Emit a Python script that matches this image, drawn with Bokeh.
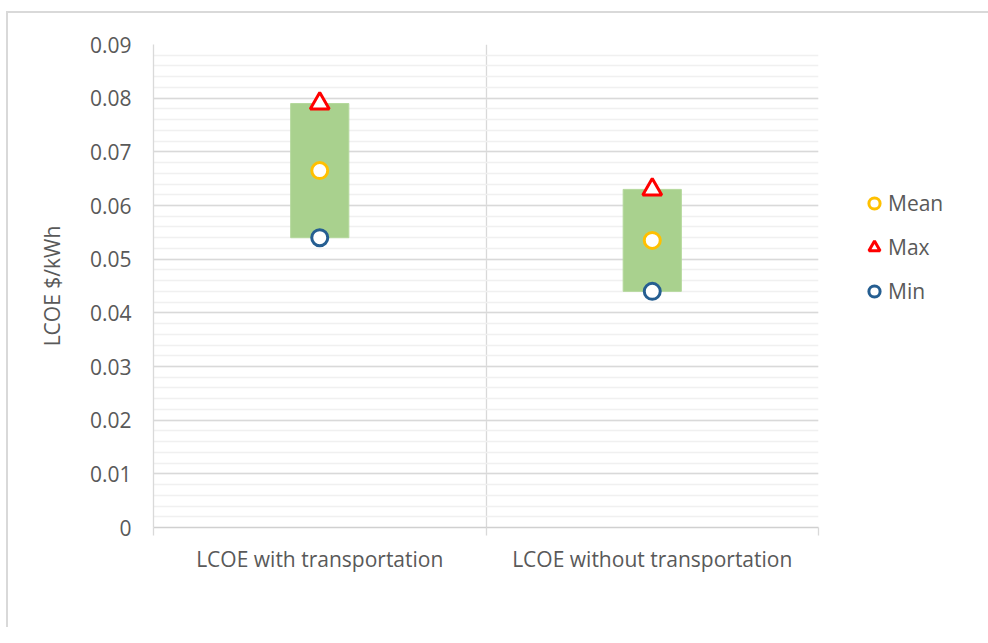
from bokeh.plotting import figure
from bokeh.models import (ColumnDataSource, Range1d, FixedTicker, NumeralTickFormatter,
                          Legend, LegendItem)
from bokeh.embed import file_html
from bokeh.resources import INLINE

# ---- data ----
categories = ["LCOE with transportation", "LCOE without transportation"]
x_pos = [1, 3]
mean_vals = [0.0665, 0.0535]
max_vals = [0.079, 0.063]
min_vals = [0.054, 0.044]
y_ticks = [0, 0.01, 0.02, 0.03, 0.04, 0.05, 0.06, 0.07, 0.08, 0.09]

TXT = "#595959"
FONT = "Open Sans"
FS = "21px"

src = ColumnDataSource(dict(x=x_pos, mean=mean_vals, mx=max_vals, mn=min_vals))

p = figure(width=986, height=641, output_backend="svg", toolbar_location=None,
           x_range=Range1d(0, 4), y_range=Range1d(0, 0.09),
           min_border_left=153, min_border_top=44, min_border_right=150, min_border_bottom=100,
           frame_width=665, frame_height=483)
p.outline_line_color = None
p.background_fill_color = "white"
p.border_fill_alpha = 0
p.styles = {
    "background": "linear-gradient(#d9d9d9,#d9d9d9) 6px 11px / 2px 100% no-repeat, "
                  "linear-gradient(#d9d9d9,#d9d9d9) 6px 11px / 100% 2px no-repeat, white"
}

# grids
minor = [round(i * 0.002, 3) for i in range(46)]
p.yaxis.ticker = FixedTicker(ticks=y_ticks, minor_ticks=minor)
p.ygrid.grid_line_color = "#d9d9d9"
p.ygrid.grid_line_width = 1.3
p.ygrid.minor_grid_line_color = "#f0f0f0"
p.ygrid.minor_grid_line_width = 1.3
p.xgrid.ticker = FixedTicker(ticks=[2, 4])
p.xgrid.grid_line_color = "#d9d9d9"
p.xgrid.grid_line_width = 1.3

# y axis
ya = p.yaxis[0]
ya.formatter = NumeralTickFormatter(format="0.[00]")
ya.axis_line_color = "#d9d9d9"
ya.axis_line_width = 1.3
ya.major_tick_out = 0
ya.major_tick_in = 0
ya.minor_tick_out = 0
ya.minor_tick_in = 0
ya.major_label_standoff = 22
ya.major_label_text_font = FONT
ya.major_label_text_font_size = FS
ya.major_label_text_color = TXT
ya.axis_label = "LCOE $/kWh"
ya.axis_label_text_font = FONT
ya.axis_label_text_font_size = FS
ya.axis_label_text_font_style = "normal"
ya.axis_label_text_color = TXT
ya.axis_label_standoff = 21

# x axis
xa = p.xaxis[0]
xa.ticker = FixedTicker(ticks=x_pos, minor_ticks=[0, 2, 4])
xa.major_label_overrides = {x: c for x, c in zip(x_pos, categories)}
xa.axis_line_color = "#d0d0d0"
xa.axis_line_width = 1.3
xa.major_tick_out = 0
xa.major_tick_in = 0
xa.minor_tick_out = 8
xa.minor_tick_in = 0
xa.minor_tick_line_color = "#d9d9d9"
xa.minor_tick_line_width = 1.3
xa.major_label_standoff = 9
xa.major_label_text_font = FONT
xa.major_label_text_font_size = FS
xa.major_label_text_color = TXT

# bars (min..max range)
p.vbar(x="x", top="mx", bottom="mn", width=0.35, source=src,
       fill_color="#a9d18e", line_color="#b4d89c", line_width=1)

r_mean = p.scatter(x="x", y="mean", source=src, marker="circle", size=16,
                   fill_color="white", line_color="#ffc000", line_width=3)
r_max = p.scatter(x="x", y="mx", source=src, marker="triangle", size=19,
                  fill_color="white", line_color="#ff0000", line_width=3)
r_min = p.scatter(x="x", y="mn", source=src, marker="circle", size=16,
                  fill_color="white", line_color="#255e91", line_width=3)

legend = Legend(items=[LegendItem(label="Mean", renderers=[r_mean]),
                       LegendItem(label="Max", renderers=[r_max]),
                       LegendItem(label="Min", renderers=[r_min])],
                location=(42, 218), orientation="vertical",
                glyph_width=28, glyph_height=36, spacing=8, label_standoff=0,
                padding=0, margin=0, border_line_color=None, background_fill_alpha=0,
                label_text_font=FONT, label_text_font_size=FS, label_text_color=TXT)
p.add_layout(legend, "right")

open("out.html", "w").write(file_html(p, INLINE))
